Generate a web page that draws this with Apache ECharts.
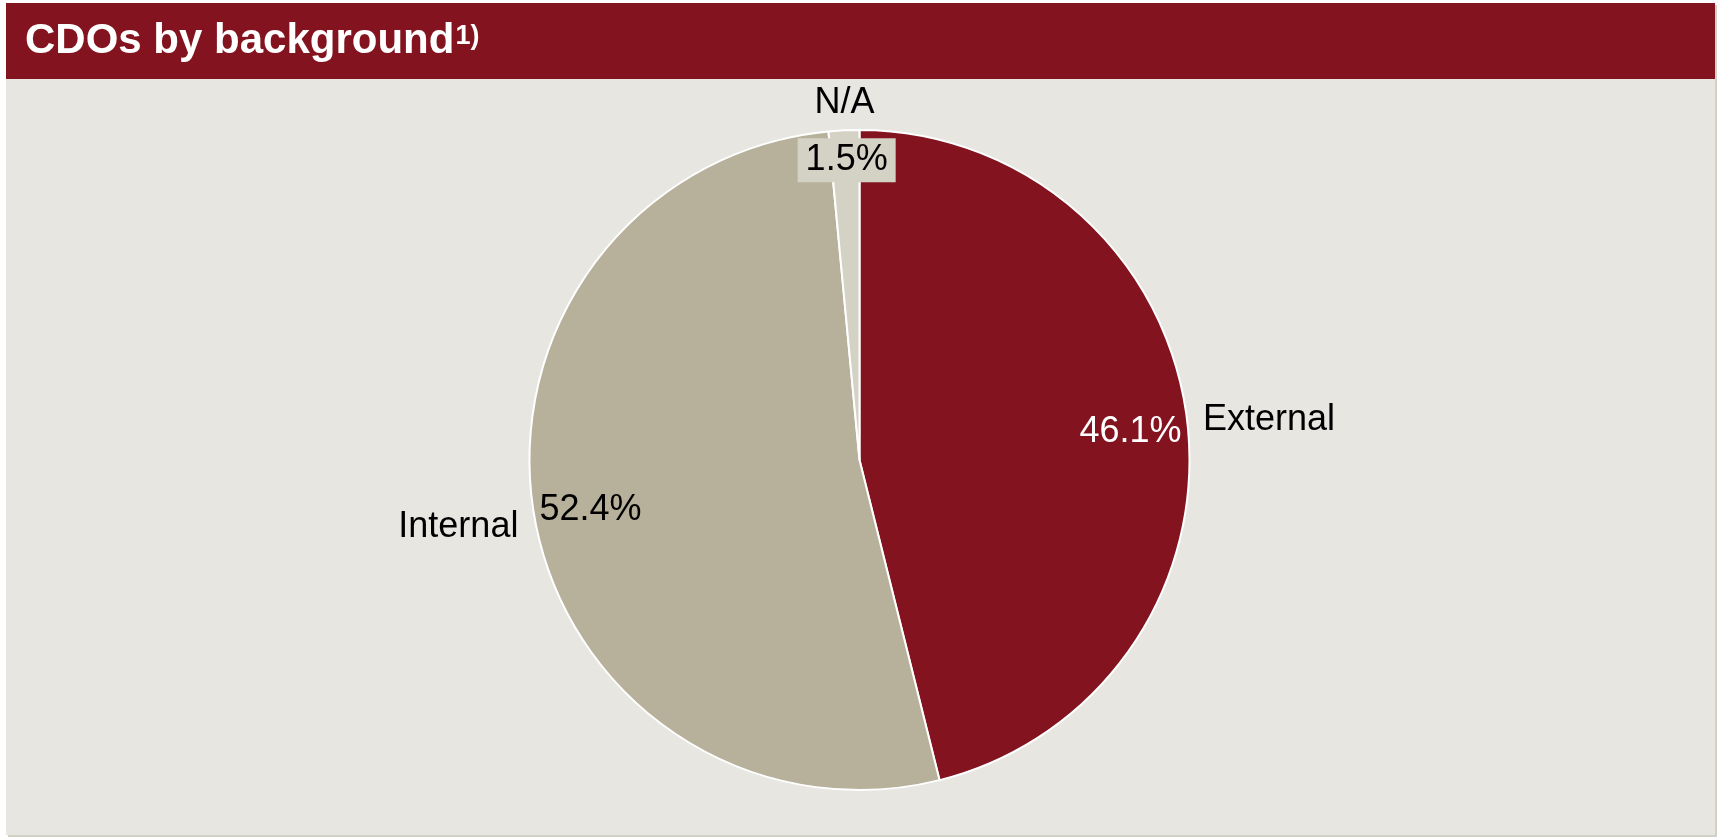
<!DOCTYPE html>
<html>
<head>
<meta charset="utf-8">
<script src="https://cdn.jsdelivr.net/npm/echarts@6/dist/echarts.min.js"></script>
<style>
  html, body { margin: 0; padding: 0; background: #fff; }
  .panel {
    position: absolute; left: 6px; top: 3px; width: 1709px; height: 832px;
    background: #E8E6E1; box-shadow: 2px 2px 0 #D3D0C6;
  }
  .bar { position: absolute; left: 0; top: 0; width: 100%; height: 76px; background: #83141F; }
  #chart { position: absolute; left: 0; top: 0; width: 1717px; height: 838px; }
</style>
</head>
<body>
<div class="panel"><div class="bar"></div></div>
<div id="chart"></div>
<script>
  // categories and shares (%)
  var categories = ['External', 'Internal', 'N/A']
  var shares = [46.1, 52.4, 1.5]
  var colors = ['#83141F', '#B7B09A', '#D4D1C5']
  var valueColors = ['#ffffff', '#000000', '#000000']

  var chart = echarts.init(document.getElementById('chart'), null, { renderer: 'canvas' })

  var pieData = []
  var ringData = []
  for (var i = 0; i < categories.length; i++) {
    pieData.push({ name: categories[i], value: shares[i], itemStyle: { color: colors[i] } })
    var lbl = { color: valueColors[i] }
    if (categories[i] == 'N/A') {
      lbl.backgroundColor = '#D4D1C5'
      lbl.padding = [5, 8, 3, 8]
    }
    ringData.push({ name: categories[i], value: shares[i], label: lbl })
  }

  // small nudges so the labels sit where the original put them
  var nameShift = [{ dy: 2 }, { dy: 10 }, { align: 'center', dx: 6, dy: -16 }]
  var valueShift = [{ dy: 5 }, { dy: 4 }, { dy: -27 }]

  chart.setOption({
    backgroundColor: 'transparent',
    animation: false,
    title: {
      left: 25,
      top: 18,
      padding: 0,
      text: '{t|CDOs by background}{s|1)}',
      textStyle: {
        rich: {
          t: { fontFamily: 'Liberation Sans', fontWeight: 'bold', fontSize: 42, color: '#fff', lineHeight: 46 },
          s: { fontFamily: 'Liberation Sans', fontWeight: 'bold', fontSize: 27, color: '#fff', verticalAlign: 'top', lineHeight: 28, padding: [5, 0, 0, 1] }
        }
      }
    },
    series: [
      {
        // visible pie with category names outside
        type: 'pie',
        center: [859.5, 460],
        radius: [0, 330],
        startAngle: 90,
        clockwise: true,
        avoidLabelOverlap: false,
        silent: true,
        itemStyle: { borderColor: '#fff', borderWidth: 2 },
        label: {
          show: true,
          position: 'outside',
          formatter: '{b}',
          fontFamily: 'Liberation Sans',
          fontSize: 36,
          color: '#000'
        },
        labelLine: { show: false, length: 11, length2: 0 },
        labelLayout: function (p) {
          return nameShift[p.dataIndex]
        },
        data: pieData
      },
      {
        // transparent ring carrying the percentage labels near the rim
        type: 'pie',
        center: [859.5, 460],
        radius: [210, 330],
        startAngle: 90,
        clockwise: true,
        silent: true,
        avoidLabelOverlap: false,
        itemStyle: { color: 'transparent', borderWidth: 0 },
        label: {
          show: true,
          position: 'inside',
          formatter: function (p) { return p.value.toFixed(1) + '%' },
          fontFamily: 'Liberation Sans',
          fontSize: 36
        },
        labelLine: { show: false },
        labelLayout: function (p) {
          return valueShift[p.dataIndex]
        },
        data: ringData
      }
    ]
  })
</script>
</body>
</html>
